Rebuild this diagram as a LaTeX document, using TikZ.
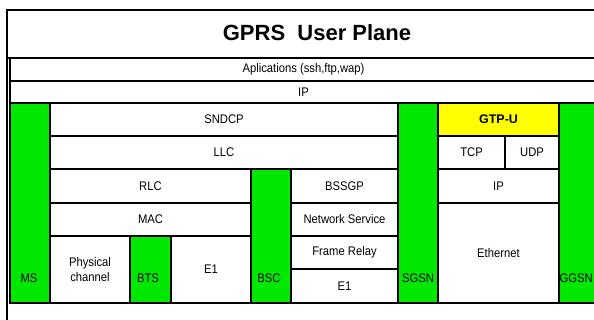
\documentclass[tikz,border=0pt]{standalone}
\usepackage{fontspec}
\setmainfont{Liberation Sans}
\newfontfamily\cellfont{Liberation Sans}[FakeStretch=0.9]
\usepackage{tikz}
\definecolor{nodegreen}{RGB}{0,232,0}
\definecolor{gtpyellow}{RGB}{255,255,0}
\tikzset{layer/.style={draw=black, fill=white, line width=1.1pt}}
\tikzset{entity/.style={layer, fill=nodegreen}}
\tikzset{label/.style={font=\cellfont\fontsize{12.5}{14.5}\selectfont, inner sep=1pt}}

\begin{document}
\begin{tikzpicture}[x=1pt,y=1pt]
	\useasboundingbox (0,0) rectangle (594,320);
	\begin{scope}
	\clip (0,0) rectangle (594,320);
	% frame and title
	\draw[line width=1.3pt] (7,310) rectangle (640,-20);
	\draw[line width=1.3pt] (7,262) -- (640,262);
	\node[font=\bfseries\fontsize{22}{26}\selectfont] (title) at (317,287) {GPRS\ \ User Plane};
	% rows over the whole width
	\draw[layer] (10,262) rectangle (597,239) node[midway,label] (apps) {Aplications (ssh,ftp,wap)};
	\draw[layer] (10,239) rectangle (597,217) node[midway,label] (ip) {IP};
	% MS - BTS - BSC
	\draw[layer] (50,217) rectangle (398,184) node[midway,label] (sndcp) {SNDCP};
	\draw[layer] (50,184) rectangle (398,151) node[midway,label] (llc) {LLC};
	\draw[layer] (50,151) rectangle (251,117) node[midway,label] (rlc) {RLC};
	\draw[layer] (50,117) rectangle (251,84) node[midway,label] (mac) {MAC};
	\draw[layer] (50,84) rectangle (130,17) node[midway,label,align=center] (phy) {Physical\\channel};
	\draw[layer] (171,84) rectangle (251,17) node[midway,label] (e1a) {E1};
	% BSC - SGSN
	\draw[layer] (291,151) rectangle (398,117) node[midway,label] (bssgp) {BSSGP};
	\draw[layer] (291,117) rectangle (398,84) node[midway,label] (ns) {Network Service};
	\draw[layer] (291,84) rectangle (398,51) node[midway,label] (fr) {Frame Relay};
	\draw[layer] (291,51) rectangle (398,17) node[midway,label] (e1b) {E1};
	% SGSN - GGSN
	\draw[layer,fill=gtpyellow] (438,217) rectangle (559,184) node[midway,label,font=\bfseries\fontsize{12.5}{14.5}\selectfont] (gtpu) {GTP-U};
	\draw[layer] (438,184) rectangle (505,151) node[midway,label] (tcp) {TCP};
	\draw[layer] (505,184) rectangle (559,151) node[midway,label] (udp) {UDP};
	\draw[layer] (438,151) rectangle (559,117) node[midway,label] (ip2) {IP};
	\draw[layer] (438,117) rectangle (559,17) node[midway,label] (eth) {Ethernet};
	% network elements
	\draw[entity] (10,217) rectangle (50,17);
	\draw[entity] (130,84) rectangle (171,17);
	\draw[entity] (251,151) rectangle (291,17);
	\draw[entity] (398,217) rectangle (438,17);
	\draw[entity] (559,217) rectangle (597,17);
	\node[label] (ms) at (29,42) {MS};
	\node[label] (bts) at (148,42) {BTS};
	\node[label] (bsc) at (269,42) {BSC};
	\node[label] (sgsn) at (418,42) {SGSN};
	\node[label,anchor=west,inner sep=0pt] (ggsn) at (559.5,42) {GGSN};
	\end{scope}
\end{tikzpicture}
\end{document}
